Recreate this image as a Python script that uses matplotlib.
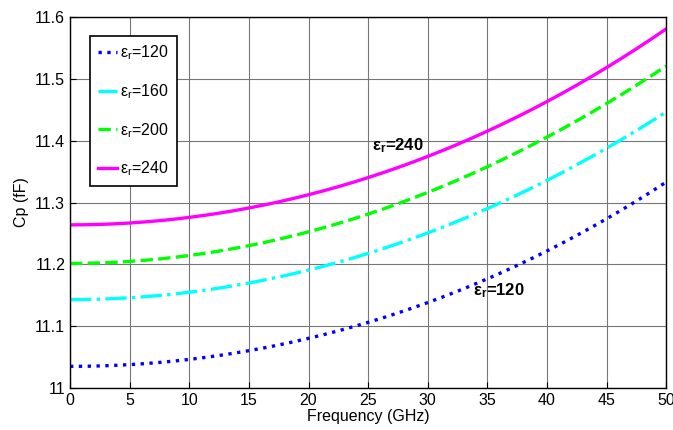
import matplotlib
matplotlib.use('Agg')
import matplotlib.pyplot as plt
import numpy as np

plt.rcParams['font.family'] = ['Liberation Sans', 'DejaVu Sans']
plt.rcParams['mathtext.fontset'] = 'custom'
plt.rcParams['mathtext.rm'] = 'Liberation Sans'
plt.rcParams['mathtext.it'] = 'Liberation Sans'
plt.rcParams['mathtext.bf'] = 'Liberation Sans:bold'

freq = [0, 5, 10, 15, 20, 25, 30, 35, 40, 45, 50]
cp_120 = [11.037, 11.039, 11.045, 11.057, 11.078, 11.107, 11.140, 11.178, 11.221, 11.272, 11.334]
cp_160 = [11.145, 11.147, 11.153, 11.168, 11.189, 11.218, 11.252, 11.291, 11.336, 11.387, 11.447]
cp_200 = [11.203, 11.205, 11.213, 11.228, 11.252, 11.283, 11.318, 11.358, 11.405, 11.459, 11.522]
cp_240 = [11.265, 11.267, 11.275, 11.290, 11.312, 11.341, 11.376, 11.416, 11.463, 11.517, 11.582]
labels = ['120', '160', '200', '240']

# smooth curve through the read-off points (even polynomial in f)
xf = np.linspace(0, 50, 201)
def smooth(y):
    c = np.polyfit(np.square(freq), y, 2)
    return np.polyval(c, xf ** 2)

def eps(v):
    return 'ε$_{\\mathregular{r}}$=' + v

fig = plt.figure(figsize=(6.73, 4.30), dpi=100)
ax = fig.add_axes([0.104, 0.098, 0.886, 0.862])

ax.plot(xf, smooth(cp_120), color='#0000ff', ls=':', lw=2.4, label=eps(labels[0]))
ax.plot(xf, smooth(cp_160), color='#00ffff', ls='-.', lw=2.4, label=eps(labels[1]))
ax.plot(xf, smooth(cp_200), color='#00ff00', ls='--', lw=2.4, label=eps(labels[2]))
ax.plot(xf, smooth(cp_240), color='#ff00ff', ls='-', lw=2.4, label=eps(labels[3]))

ax.set_xlim(0, 50)
ax.set_ylim(11, 11.6)
ax.set_xticks(np.arange(0, 51, 5))
ax.set_yticks([11, 11.1, 11.2, 11.3, 11.4, 11.5, 11.6])
ax.set_yticklabels(['11', '11.1', '11.2', '11.3', '11.4', '11.5', '11.6'])
ax.tick_params(direction='in', labelsize=11.5, length=4)
ax.grid(True, color='#777777', lw=0.8)
for s in ax.spines.values():
    s.set_linewidth(1.0)

ax.set_xlabel('Frequency (GHz)', fontsize=11.5, labelpad=1)
ax.set_ylabel('Cp (fF)', fontsize=11.5, labelpad=4)

ax.text(25.3, 11.385, eps('240'), fontsize=12, fontweight='bold')
ax.text(33.8, 11.15, eps('120'), fontsize=12, fontweight='bold')

leg = ax.legend(loc='upper left', bbox_to_anchor=(0.034, 0.95), fontsize=11.5,
                handlelength=1.2, handletextpad=0.15, labelspacing=1.25,
                borderpad=0.5, borderaxespad=0, fancybox=False, framealpha=1,
                edgecolor='black')
leg.get_frame().set_linewidth(1.2)

plt.savefig('out.png', dpi=100)
